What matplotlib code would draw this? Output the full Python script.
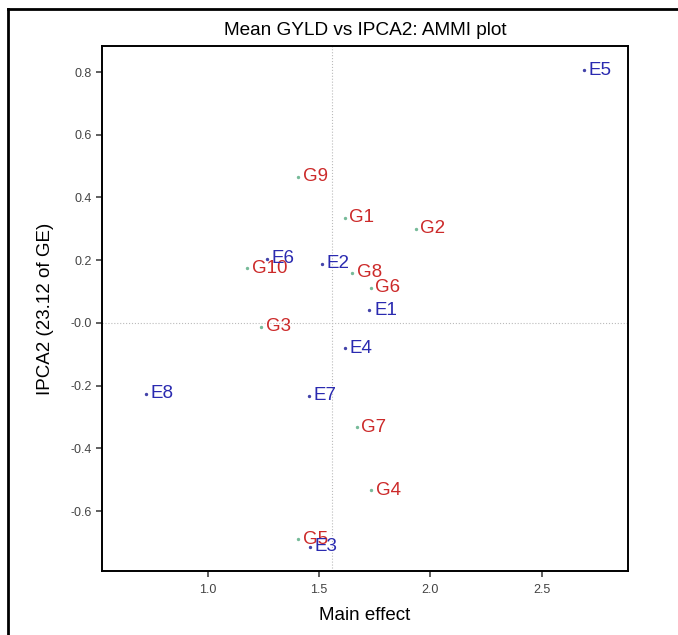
import matplotlib.pyplot as plt
from matplotlib.lines import Line2D

plt.rcParams['font.family'] = ['Liberation Sans', 'DejaVu Sans']

# genotypes
G_NAMES = ["G1", "G2", "G3", "G4", "G5", "G6", "G7", "G8", "G9", "G10"]
G_MEAN = [1.614, 1.933, 1.238, 1.735, 1.404, 1.731, 1.668, 1.646, 1.404, 1.175]
G_IPCA2 = [0.335, 0.300, -0.013, -0.533, -0.689, 0.112, -0.332, 0.160, 0.466, 0.175]

# environments
E_NAMES = ["E1", "E2", "E3", "E4", "E5", "E6", "E7", "E8"]
E_MEAN = [1.726, 1.511, 1.457, 1.614, 2.688, 1.265, 1.453, 0.722]
E_IPCA2 = [0.041, 0.188, -0.714, -0.080, 0.806, 0.204, -0.233, -0.226]

GRAND_MEAN = 1.556

fig = plt.figure(figsize=(6.78, 6.35), dpi=100)
ax = fig.add_axes([0.1504, 0.1008, 0.7756, 0.8268])

ax.axvline(GRAND_MEAN, color='#bbbbbb', lw=0.8, ls=':', zorder=0)
ax.axhline(0, color='#bbbbbb', lw=0.8, ls=':', zorder=0)

ax.scatter(G_MEAN, G_IPCA2, s=2, c='#77bb99', zorder=2)
ax.scatter(E_MEAN, E_IPCA2, s=2, c='#4444aa', zorder=2)

for n, x, y in zip(G_NAMES, G_MEAN, G_IPCA2):
    ax.annotate(n, (x, y), xytext=(3.5, 0), textcoords='offset points',
                va='center', ha='left', color='#cc2a2a', fontsize=13.5)
for n, x, y in zip(E_NAMES, E_MEAN, E_IPCA2):
    ax.annotate(n, (x, y), xytext=(3.5, 0), textcoords='offset points',
                va='center', ha='left', color='#2a2ab0', fontsize=13.5)

ax.set_xlim(0.525, 2.886)
ax.set_ylim(-0.791, 0.883)
ax.set_xticks([1.0, 1.5, 2.0, 2.5])
ax.set_yticks([-0.6, -0.4, -0.2, 0.0, 0.2, 0.4, 0.6, 0.8])
ax.set_yticklabels(['-0.6', '-0.4', '-0.2', '-0.0', '0.2', '0.4', '0.6', '0.8'])
ax.tick_params(labelsize=9, length=4.5, width=1.2, colors='#444444', pad=2.5)
ax.tick_params(axis='x', pad=5)
for s in ax.spines.values():
    s.set_linewidth(1.4)

ax.set_xlabel('Main effect', fontsize=13.5, labelpad=8)
ax.set_ylabel('IPCA2 (23.12 of GE)', fontsize=13.5, labelpad=12)
ax.set_title('Mean GYLD vs IPCA2: AMMI plot', fontsize=13.7, pad=8)

# outer frame
fig.add_artist(Line2D([8/678, 8/678], [0, 1 - 9/635], transform=fig.transFigure, color='black', lw=2))
fig.add_artist(Line2D([8/678, 1], [1 - 9/635, 1 - 9/635], transform=fig.transFigure, color='black', lw=2))

fig.savefig('out.png', dpi=100)
